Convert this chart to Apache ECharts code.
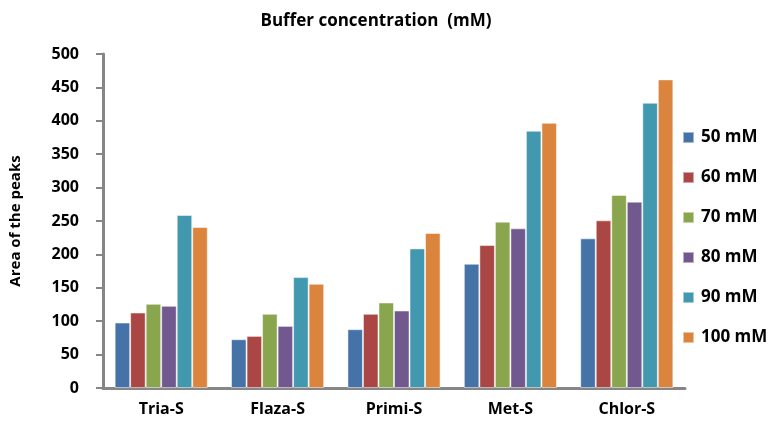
<!DOCTYPE html>
<html><head><meta charset="utf-8">
<script src="https://cdn.jsdelivr.net/npm/echarts@6/dist/echarts.min.js"></script>
<style>html,body{margin:0;padding:0;background:#fff}#c{width:768px;height:422px}</style>
</head><body><div id="c"></div>
<script>
const categories = ['Tria-S','Flaza-S','Primi-S','Met-S','Chlor-S'];
const seriesNames = ['50 mM','60 mM','70 mM','80 mM','90 mM','100 mM'];
const s50 = [98, 73, 88, 186, 224];
const s60 = [113, 78, 111, 214, 251];
const s70 = [126, 111, 128, 249, 289];
const s80 = [123, 93, 116, 239, 279];
const s90 = [259, 166, 209, 385, 427];
const s100 = [241, 156, 232, 397, 462];
const yTicks = [0, 50, 100, 150, 200, 250, 300, 350, 400, 450, 500];
const colors = ['#4572A7','#AA4643','#89A54E','#71588F','#4198AF','#DB843D'];
const allData = [s50, s60, s70, s80, s90, s100];
const font = 'Open Sans';
const chart = echarts.init(document.getElementById('c'));
chart.setOption({
  animation: false,
  title: { text: 'Buffer concentration  (mM)', left: 371, top: 8, textAlign: 'center',
    textStyle: { fontFamily: font, fontWeight: 'bold', fontSize: 17, color: '#000' } },
  legend: { orient: 'vertical', left: 677, top: 121, itemGap: 17, itemWidth: 11, itemHeight: 11,
    icon: 'rect',
    data: seriesNames,
    textStyle: { fontFamily: font, fontWeight: 'bold', fontSize: 17, color: '#000', lineHeight: 23, padding: [0,0,0,2] } },
  grid: { left: 100, right: 83, top: 54, bottom: 34 },
  xAxis: { type: 'category', data: categories,
    axisLine: { lineStyle: { color: '#868686', width: 3 } },
    axisTick: { show: false },
    axisLabel: { fontFamily: font, fontWeight: 'bold', fontSize: 16, color: '#000', margin: 13 } },
  yAxis: { type: 'value', min: yTicks[0], max: yTicks[yTicks.length-1], interval: 50,
    name: 'Area of the peaks', nameLocation: 'middle', nameGap: 80, nameRotate: 90,
    nameTextStyle: { fontFamily: font, fontWeight: 'bold', fontSize: 15, color: '#000' },
    axisLine: { show: true, lineStyle: { color: '#868686', width: 3 } },
    axisTick: { show: true, length: 7, lineStyle: { color: '#868686', width: 2 } },
    splitLine: { show: false },
    axisLabel: { fontFamily: font, fontWeight: 'bold', fontSize: 16, color: '#000', margin: 24 } },
  series: seriesNames.map((n, i) => ({
    name: n, type: 'bar', data: allData[i], barGap: '0%', barCategoryGap: '20%',
    itemStyle: { color: colors[i], borderColor: 'rgba(255,255,255,0.5)', borderWidth: 1 }
  }))
});
</script></body></html>
